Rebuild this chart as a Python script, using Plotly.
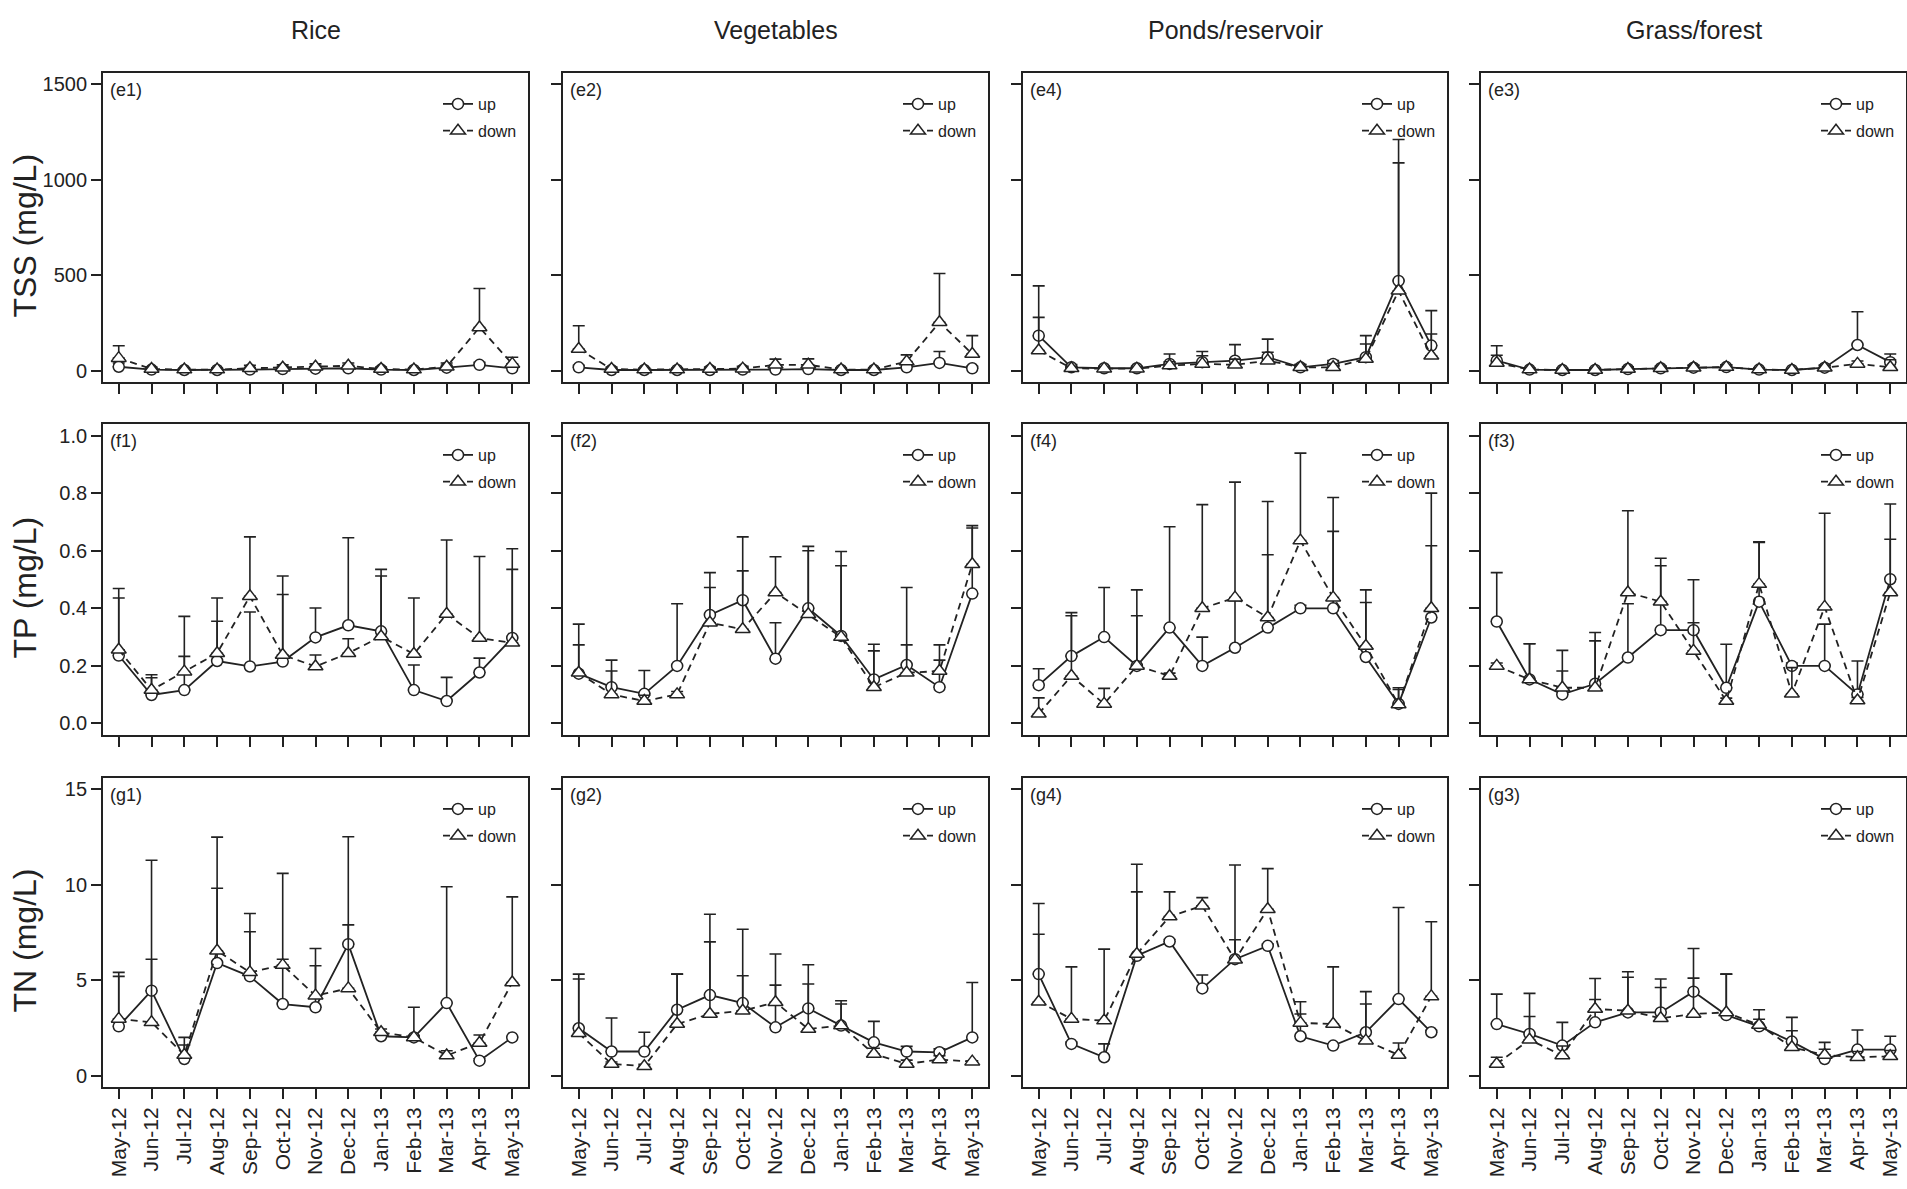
import plotly.graph_objects as go

# ---------------- data ----------------
months = ["May-12", "Jun-12", "Jul-12", "Aug-12", "Sep-12", "Oct-12", "Nov-12",
          "Dec-12", "Jan-13", "Feb-13", "Mar-13", "Apr-13", "May-13"]
land_uses = ["Rice", "Vegetables", "Ponds/reservoir", "Grass/forest"]
row_titles = ["TSS (mg/L)", "TP (mg/L)", "TN (mg/L)"]
panel_tags = [["(e1)", "(e2)", "(e4)", "(e3)"],
              ["(f1)", "(f2)", "(f4)", "(f3)"],
              ["(g1)", "(g2)", "(g4)", "(g3)"]]

# TSS (mg/L): mean and upper error per month
tss_rice_up = [20, 5, 3, 3, 5, 8, 10, 12, 5, 3, 15, 30, 12]
tss_rice_up_err = [20, 8, 5, 5, 8, 10, 12, 15, 8, 5, 12, 13, 15]
tss_rice_down = [65, 8, 5, 5, 12, 15, 20, 25, 8, 5, 20, 226, 35]
tss_rice_down_err = [65, 10, 8, 8, 15, 15, 15, 15, 10, 8, 20, 204, 35]

tss_veg_up = [17, 3, 3, 3, 3, 5, 5, 8, 3, 3, 17, 40, 12]
tss_veg_up_err = [10, 5, 5, 5, 5, 8, 8, 10, 5, 5, 10, 60, 10]
tss_veg_down = [113, 8, 5, 5, 8, 10, 30, 30, 5, 5, 47, 253, 87]
tss_veg_down_err = [122, 10, 8, 8, 10, 12, 30, 31, 8, 8, 35, 256, 96]

tss_pond_up = [183, 17, 12, 12, 35, 44, 52, 70, 17, 35, 70, 470, 131]
tss_pond_up_err = [261, 15, 10, 10, 52, 56, 84, 95, 15, 17, 113, 741, 183]
tss_pond_down = [105, 12, 10, 10, 26, 35, 30, 52, 17, 17, 61, 418, 78]
tss_pond_down_err = [174, 10, 8, 8, 20, 43, 30, 44, 15, 20, 78, 671, 114]

tss_grass_up = [52, 5, 3, 3, 8, 12, 15, 18, 5, 3, 15, 134, 44]
tss_grass_up_err = [78, 8, 8, 8, 10, 10, 12, 12, 8, 5, 12, 174, 43]
tss_grass_down = [40, 5, 3, 3, 8, 12, 15, 18, 5, 3, 15, 35, 17]
tss_grass_down_err = [40, 8, 8, 8, 10, 10, 12, 12, 8, 5, 12, 15, 40]

# TP (mg/L)
tp_rice_up = [0.236, 0.099, 0.116, 0.217, 0.198, 0.215, 0.299, 0.341, 0.32, 0.116, 0.078, 0.177, 0.297]
tp_rice_up_err = [0.20, 0.06, 0.117, 0.138, 0.189, 0.233, 0.102, 0.304, 0.192, 0.087, 0.082, 0.05, 0.238]
tp_rice_down = [0.256, 0.116, 0.18, 0.244, 0.442, 0.238, 0.198, 0.244, 0.302, 0.241, 0.38, 0.297, 0.28]
tp_rice_down_err = [0.213, 0.053, 0.192, 0.192, 0.206, 0.274, 0.04, 0.05, 0.233, 0.195, 0.257, 0.283, 0.327]

tp_veg_up = [0.173, 0.126, 0.103, 0.2, 0.377, 0.428, 0.225, 0.4, 0.304, 0.153, 0.203, 0.126, 0.451]
tp_veg_up_err = [0.1, 0.056, 0.081, 0.216, 0.147, 0.22, 0.125, 0.2, 0.244, 0.122, 0.269, 0.094, 0.236]
tp_veg_down = [0.176, 0.101, 0.078, 0.101, 0.35, 0.327, 0.455, 0.379, 0.3, 0.126, 0.176, 0.182, 0.553]
tp_veg_down_err = [0.169, 0.119, 0.02, 0.01, 0.122, 0.203, 0.124, 0.236, 0.297, 0.126, 0.097, 0.091, 0.126]

tp_pond_up = [0.133, 0.234, 0.3, 0.2, 0.333, 0.2, 0.263, 0.333, 0.4, 0.4, 0.231, 0.068, 0.368]
tp_pond_up_err = [0.057, 0.151, 0.172, 0.264, 0.35, 0.1, 0.163, 0.253, 0.01, 0.385, 0.189, 0.05, 0.249]
tp_pond_down = [0.034, 0.165, 0.068, 0.2, 0.165, 0.4, 0.437, 0.368, 0.635, 0.437, 0.269, 0.066, 0.4]
tp_pond_down_err = [0.055, 0.209, 0.054, 0.174, 0.01, 0.36, 0.401, 0.403, 0.304, 0.23, 0.195, 0.058, 0.4]

tp_grass_up = [0.354, 0.153, 0.101, 0.138, 0.229, 0.324, 0.324, 0.124, 0.423, 0.2, 0.2, 0.101, 0.501]
tp_grass_up_err = [0.17, 0.124, 0.153, 0.178, 0.187, 0.224, 0.175, 0.151, 0.208, 0.01, 0.145, 0.116, 0.261]
tp_grass_down = [0.2, 0.153, 0.124, 0.124, 0.455, 0.423, 0.252, 0.078, 0.484, 0.103, 0.405, 0.08, 0.455]
tp_grass_down_err = [0.01, 0.124, 0.058, 0.163, 0.284, 0.151, 0.098, 0.01, 0.145, 0.091, 0.325, 0.01, 0.185]

# TN (mg/L)
tn_rice_up = [2.58, 4.45, 0.87, 5.9, 5.2, 3.75, 3.58, 6.89, 2.06, 2.0, 3.8, 0.78, 2.0]
tn_rice_up_err = [2.83, 6.84, 1.13, 3.92, 3.3, 2.35, 2.18, 5.63, 0.2, 1.58, 6.1, 0.1, 0.05]
tn_rice_down = [2.97, 2.79, 1.08, 6.54, 5.41, 5.79, 4.19, 4.57, 2.27, 2.0, 1.05, 1.71, 4.88]
tn_rice_down_err = [2.23, 3.31, 0.52, 5.96, 2.13, 4.81, 2.47, 3.33, 0.17, 0.1, 0.25, 0.42, 4.49]

tn_veg_up = [2.48, 1.26, 1.26, 3.45, 4.22, 3.8, 2.53, 3.52, 2.62, 1.74, 1.26, 1.22, 2.0]
tn_veg_up_err = [2.84, 1.76, 1.01, 1.87, 4.24, 3.87, 2.21, 2.29, 1.3, 1.1, 0.27, 0.18, 2.88]
tn_veg_down = [2.22, 0.61, 0.49, 2.7, 3.23, 3.4, 3.84, 2.44, 2.62, 1.13, 0.61, 0.84, 0.73]
tn_veg_down_err = [2.84, 0.1, 0.1, 2.62, 3.78, 1.83, 2.53, 2.36, 1.13, 0.3, 0.2, 0.2, 0.05]

tn_pond_up = [5.32, 1.66, 0.96, 6.28, 7.03, 4.57, 6.1, 6.8, 2.06, 1.57, 2.27, 4.01, 2.27]
tn_pond_up_err = [3.7, 0.1, 0.7, 4.8, 0.1, 0.7, 4.94, 0.1, 1.17, 0.1, 2.13, 4.8, 0.1]
tn_pond_down = [3.87, 2.97, 2.88, 6.37, 8.34, 8.9, 6.07, 8.72, 2.76, 2.7, 1.83, 1.08, 4.15]
tn_pond_down_err = [3.54, 2.73, 3.75, 3.26, 1.29, 0.43, 1.05, 2.13, 1.11, 3.0, 1.92, 0.63, 3.91]

tn_grass_up = [2.7, 2.18, 1.57, 2.79, 3.31, 3.31, 4.4, 3.17, 2.58, 1.78, 0.87, 1.36, 1.36]
tn_grass_up_err = [1.57, 2.13, 1.22, 2.3, 2.13, 1.75, 2.26, 2.15, 0.87, 1.27, 0.87, 1.03, 0.7]
tn_grass_down = [0.61, 1.88, 1.05, 3.49, 3.4, 3.0, 3.23, 3.31, 2.65, 1.48, 1.08, 0.96, 1.01]
tn_grass_down_err = [0.35, 1.22, 0.5, 0.5, 1.75, 1.62, 1.88, 2.01, 0.3, 0.87, 0.3, 0.3, 0.3]

y_ticks = [[0, 500, 1000, 1500], [0, 0.2, 0.4, 0.6, 0.8, 1.0], [0, 5, 10, 15]]
y_ranges = [[-60, 1560], [-0.04, 1.04], [-0.6, 15.6]]
y_formats = ["d", ".1f", "d"]

panels = [
    [(tss_rice_up, tss_rice_up_err, tss_rice_down, tss_rice_down_err),
     (tss_veg_up, tss_veg_up_err, tss_veg_down, tss_veg_down_err),
     (tss_pond_up, tss_pond_up_err, tss_pond_down, tss_pond_down_err),
     (tss_grass_up, tss_grass_up_err, tss_grass_down, tss_grass_down_err)],
    [(tp_rice_up, tp_rice_up_err, tp_rice_down, tp_rice_down_err),
     (tp_veg_up, tp_veg_up_err, tp_veg_down, tp_veg_down_err),
     (tp_pond_up, tp_pond_up_err, tp_pond_down, tp_pond_down_err),
     (tp_grass_up, tp_grass_up_err, tp_grass_down, tp_grass_down_err)],
    [(tn_rice_up, tn_rice_up_err, tn_rice_down, tn_rice_down_err),
     (tn_veg_up, tn_veg_up_err, tn_veg_down, tn_veg_down_err),
     (tn_pond_up, tn_pond_up_err, tn_pond_down, tn_pond_down_err),
     (tn_grass_up, tn_grass_up_err, tn_grass_down, tn_grass_down_err)],
]

# ---------------- layout geometry (pixels) ----------------
W, H = 1907, 1189
col_px = [(103, 528), (563, 988), (1023, 1447), (1481, 1906)]
row_px = [(73, 382), (424, 735), (778, 1087)]
FONT = "Liberation Sans, Arial, sans-serif"
INK = "#222222"

def fx(px):
    return px / W

def fy(px):
    return 1 - px / H

fig = go.Figure()
layout = dict(
    width=W, height=H,
    margin=dict(l=0, r=0, t=0, b=0),
    paper_bgcolor="white", plot_bgcolor="white",
    font=dict(family=FONT, color=INK),
    annotations=[],
)

x_idx = list(range(len(months)))

for r in range(3):
    for c in range(4):
        k = r * 4 + c + 1
        sfx = "" if k == 1 else str(k)
        xa, ya = "x" + sfx, "y" + sfx
        leg = "legend" + sfx
        up, up_err, down, down_err = panels[r][c]

        fig.add_trace(go.Scatter(
            x=x_idx, y=up, name="up", mode="lines+markers",
            line=dict(color=INK, width=1.8),
            marker=dict(symbol="circle", size=11, color="white",
                        line=dict(color=INK, width=1.5)),
            error_y=dict(type="data", symmetric=False, array=up_err,
                         arrayminus=[0] * len(up), color=INK,
                         thickness=1.6, width=6),
            xaxis=xa, yaxis=ya, legend=leg, legendgroup=f"up{k}",
        ))
        fig.add_trace(go.Scatter(
            x=x_idx, y=down, name="down", mode="lines+markers",
            line=dict(color=INK, width=1.8, dash="7px,5px"),
            marker=dict(symbol="triangle-up", size=13, color="white",
                        line=dict(color=INK, width=1.5)),
            error_y=dict(type="data", symmetric=False, array=down_err,
                         arrayminus=[0] * len(down), color=INK,
                         thickness=1.6, width=6),
            xaxis=xa, yaxis=ya, legend=leg, legendgroup=f"down{k}",
        ))

        x0, x1 = col_px[c]
        y0, y1 = row_px[r]
        layout["xaxis" + sfx] = dict(
            domain=[fx(x0), fx(x1)], anchor=ya,
            range=[-0.48, len(months) - 1 + 0.48],
            tickmode="array", tickvals=x_idx, ticktext=months,
            showticklabels=(r == 2), tickangle=-90,
            tickfont=dict(size=21, family=FONT, color=INK),
            ticks="outside", ticklen=10, tickwidth=1.5, tickcolor=INK,
            showline=True, mirror=True, linecolor=INK, linewidth=1.8,
            showgrid=False, zeroline=False, automargin=False,
        )
        layout["yaxis" + sfx] = dict(
            domain=[fy(y1), fy(y0)], anchor=xa,
            range=y_ranges[r],
            tickmode="array", tickvals=y_ticks[r], tickformat=y_formats[r],
            showticklabels=(c == 0),
            tickfont=dict(size=20, family=FONT, color=INK),
            ticks="outside", ticklen=10, tickwidth=1.5, tickcolor=INK,
            showline=True, mirror=True, linecolor=INK, linewidth=1.8,
            showgrid=False, zeroline=False, automargin=False,
        )
        layout[leg] = dict(
            x=fx(x1 - 6), xanchor="right", y=fy(y0 + 14), yanchor="top",
            bgcolor="rgba(0,0,0,0)", borderwidth=0,
            font=dict(size=16, family=FONT, color=INK),
            traceorder="grouped", tracegroupgap=3, itemwidth=30,
        )
        layout["annotations"].append(dict(
            text=panel_tags[r][c], xref="paper", yref="paper",
            x=fx(x0 + 5), y=fy(y0 + 5), xanchor="left", yanchor="top",
            showarrow=False, font=dict(size=18, family=FONT, color=INK),
        ))

for c, name in enumerate(land_uses):
    x0, x1 = col_px[c]
    layout["annotations"].append(dict(
        text=name, xref="paper", yref="paper",
        x=fx((x0 + x1) / 2), y=fy(30), xanchor="center", yanchor="middle",
        showarrow=False, font=dict(size=25, family=FONT, color=INK),
    ))

for r, name in enumerate(row_titles):
    y0, y1 = row_px[r]
    layout["annotations"].append(dict(
        text=name, xref="paper", yref="paper", textangle=-90,
        x=fx(24), y=fy((y0 + y1) / 2 + 8), xanchor="center", yanchor="middle",
        showarrow=False, font=dict(size=32, family=FONT, color=INK),
    ))

fig.update_layout(**layout)
fig.write_html("out.html")
